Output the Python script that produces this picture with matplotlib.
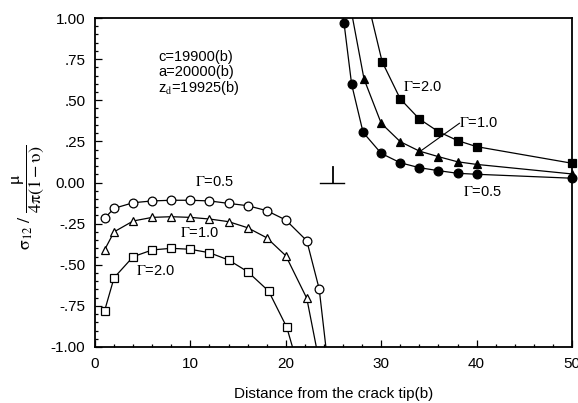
import matplotlib
matplotlib.use("Agg")
import matplotlib.pyplot as plt
from matplotlib.ticker import MultipleLocator

plt.rcParams['font.family'] = ['Liberation Sans', 'DejaVu Sans']
plt.rcParams['mathtext.fontset'] = 'stix'

# ---- data ----
g05_left_x = [1, 2, 4, 6, 8, 10, 12, 14, 16, 18, 20, 22.2, 23.5]
g05_left_y = [-0.218, -0.157, -0.123, -0.112, -0.108, -0.108, -0.112, -0.127, -0.141, -0.171, -0.228, -0.354, -0.647]
g05_left_end = (24.2, -1.0)

g10_left_x = [1, 2, 4, 6, 8, 10, 12, 14, 16, 18, 20, 22.2]
g10_left_y = [-0.41, -0.30, -0.234, -0.212, -0.208, -0.212, -0.222, -0.238, -0.275, -0.336, -0.445, -0.704]
g10_left_end = (23.2, -1.0)

g20_left_x = [1, 2, 4, 6, 8, 10, 12, 14, 16, 18.2, 20.1]
g20_left_y = [-0.781, -0.579, -0.451, -0.410, -0.400, -0.406, -0.427, -0.471, -0.542, -0.660, -0.880]
g20_left_end = (20.7, -1.0)

g05_right_x = [26.1, 26.9, 28.1, 30, 32, 34, 36, 38, 40, 50]
g05_right_y = [0.971, 0.597, 0.305, 0.177, 0.12, 0.09, 0.072, 0.056, 0.05, 0.026]
g05_right_start = (26.0, 1.0)

g10_right_x = [28.2, 30, 32, 34, 36, 38, 40, 50]
g10_right_y = [0.629, 0.36, 0.248, 0.191, 0.157, 0.126, 0.11, 0.052]
g10_right_start = (27.0, 1.0)

g20_right_x = [30.1, 32, 34, 36, 38, 40, 50]
g20_right_y = [0.734, 0.508, 0.386, 0.309, 0.255, 0.218, 0.117]
g20_right_start = (29.0, 1.0)

y_ticks = [-1.0, -0.75, -0.5, -0.25, 0.0, 0.25, 0.5, 0.75, 1.0]
y_tick_labels = ["-1.00", "-.75", "-.50", "-.25", "0.00", ".25", ".50", ".75", "1.00"]
x_ticks = [0, 10, 20, 30, 40, 50]

fig = plt.figure(figsize=(5.78, 4.03), dpi=100)
ax = fig.add_axes([95/578, 1-347/403, 477/578, 329/403])

lw = 0.9
ms = 6.3

def branch(xs, ys, start=None, end=None, marker='o', mfc='white'):
    lx = list(xs)
    ly = list(ys)
    if start is not None:
        lx = [start[0]] + lx
        ly = [start[1]] + ly
    if end is not None:
        lx = lx + [end[0]]
        ly = ly + [end[1]]
    ax.plot(lx, ly, color='black', lw=lw, zorder=2)
    ax.plot(xs, ys, linestyle='none', marker=marker, ms=ms, mfc=mfc,
            mec='black', mew=0.9, clip_on=False, zorder=3)

branch(g05_left_x, g05_left_y, end=g05_left_end, marker='o', mfc='white')
branch(g10_left_x, g10_left_y, end=g10_left_end, marker='^', mfc='white')
branch(g20_left_x, g20_left_y, end=g20_left_end, marker='s', mfc='white')
branch(g05_right_x, g05_right_y, start=g05_right_start, marker='o', mfc='black')
branch(g10_right_x, g10_right_y, start=g10_right_start, marker='^', mfc='black')
branch(g20_right_x, g20_right_y, start=g20_right_start, marker='s', mfc='black')

ax.set_xlim(0, 50)
ax.set_ylim(-1.0, 1.0)
ax.set_xticks(x_ticks)
ax.set_yticks(y_ticks)
ax.set_yticklabels(y_tick_labels)
ax.xaxis.set_minor_locator(MultipleLocator(2))
ax.yaxis.set_minor_locator(MultipleLocator(0.05))
ax.tick_params(which='both', direction='in', top=False, right=False,
               labelsize=11, width=0.9)
ax.tick_params(which='major', length=5, pad=7)
ax.tick_params(which='minor', length=2.5)
for s in ax.spines.values():
    s.set_linewidth(1.3)

# annotations
fs = 10.5
ax.text(6.6, 0.763, "c=19900(b)", fontsize=fs, ha='left', va='center')
ax.text(6.6, 0.672, "a=20000(b)", fontsize=fs, ha='left', va='center')
ax.text(6.6, 0.574, r"z$_{\rm d}$=19925(b)", fontsize=fs, ha='left', va='center')

ax.text(12.5, 0.0, r"$\Gamma$=0.5", fontsize=fs, ha='center', va='center')
ax.text(11.0, -0.31, r"$\Gamma$=1.0", fontsize=fs, ha='center', va='center')
ax.text(6.3, -0.536, r"$\Gamma$=2.0", fontsize=fs, ha='center', va='center')

ax.text(34.3, 0.579, r"$\Gamma$=2.0", fontsize=fs, ha='center', va='center')
ax.text(40.2, 0.36, r"$\Gamma$=1.0", fontsize=fs, ha='center', va='center')
ax.text(40.6, -0.056, r"$\Gamma$=0.5", fontsize=fs, ha='center', va='center')
ax.plot([34.1, 38.2], [0.19, 0.36], color='black', lw=0.8)

# dislocation symbol
ax.plot([23.6, 26.1], [0.0, 0.0], color='black', lw=1.0)
ax.plot([24.9, 24.9], [0.0, 0.096], color='black', lw=1.3)

ax.set_xlabel("Distance from the crack tip(b)", fontsize=11, labelpad=12)
fig.text(28/578, 1-197/403,
         r"$\mathrm{\sigma}_{12}\ /\ \dfrac{\mathrm{\mu}}{4\mathrm{\pi}(1-\mathrm{\upsilon})}$",
         rotation=90, fontsize=13, ha='center', va='center')

fig.savefig("out.png", dpi=100)
